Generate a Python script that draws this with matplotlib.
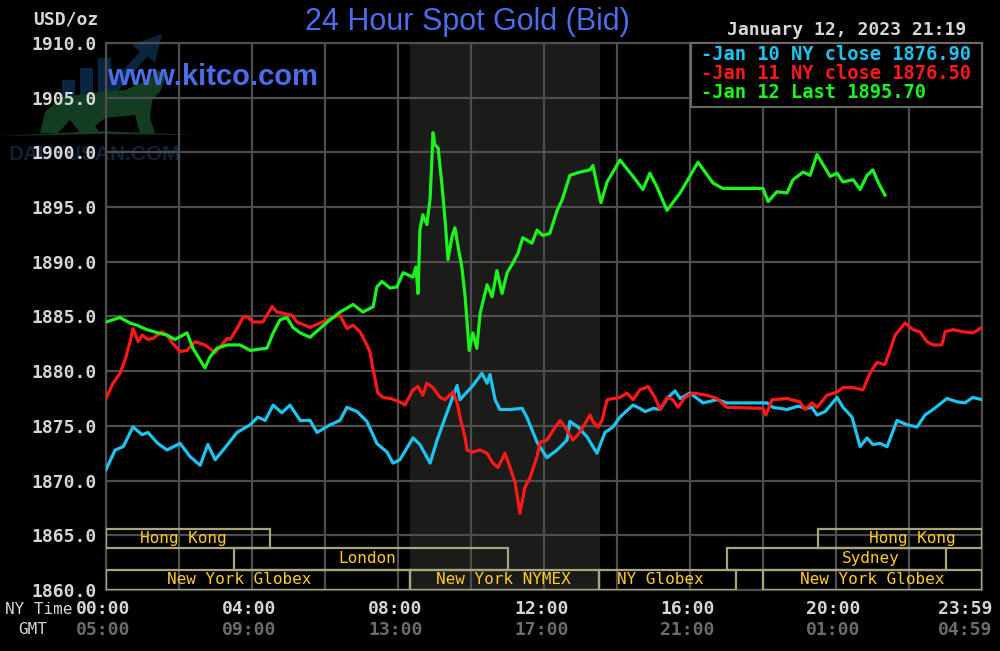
import matplotlib
matplotlib.use("Agg")
import matplotlib.pyplot as plt
from matplotlib.patches import Rectangle, Polygon

# (hour of NY day, bid price)
jan10 = [(0, 1871.0), (0.25, 1872.8), (0.47, 1873.1), (0.74, 1874.9), (0.99, 1874.2), (1.15, 1874.4),
         (1.42, 1873.4), (1.67, 1872.8), (2.03, 1873.4), (2.30, 1872.2), (2.58, 1871.4), (2.79, 1873.3),
         (2.99, 1871.9), (3.26, 1873.0), (3.59, 1874.4), (3.95, 1875.1), (4.16, 1875.8), (4.36, 1875.5),
         (4.58, 1876.9), (4.82, 1876.2), (5.04, 1876.9), (5.32, 1875.5), (5.59, 1875.5), (5.78, 1874.4),
         (6.14, 1875.1), (6.41, 1875.5), (6.60, 1876.7), (6.88, 1876.3), (7.15, 1875.4), (7.42, 1873.4),
         (7.70, 1872.6), (7.86, 1871.6), (8.05, 1871.9), (8.41, 1873.9), (8.60, 1873.3), (8.88, 1871.6),
         (9.07, 1873.7), (9.34, 1876.2), (9.62, 1878.7), (9.70, 1877.4), (10.03, 1878.6), (10.30, 1879.8),
         (10.44, 1878.9), (10.52, 1879.7), (10.66, 1877.4), (10.79, 1876.5), (11.07, 1876.5), (11.40, 1876.6),
         (11.53, 1875.8), (11.81, 1873.5), (12.08, 1872.1), (12.36, 1872.8), (12.63, 1873.7), (12.71, 1875.4),
         (12.93, 1874.9), (13.18, 1874.0), (13.45, 1872.5), (13.67, 1874.4), (13.89, 1874.9), (14.08, 1875.8),
         (14.44, 1876.9), (14.63, 1876.6), (14.77, 1876.3), (14.99, 1876.6), (15.18, 1876.5), (15.37, 1877.5),
         (15.59, 1878.2), (15.73, 1877.5), (16.00, 1878.0), (16.36, 1877.1), (16.74, 1877.4), (17.01, 1877.1),
         (18.11, 1877.1), (18.27, 1876.7), (18.66, 1876.5), (18.96, 1876.8), (19.21, 1876.6), (19.34, 1876.7),
         (19.48, 1876.0), (19.70, 1876.3), (20.03, 1877.6), (20.19, 1876.7), (20.44, 1875.8), (20.66, 1873.1),
         (20.85, 1873.9), (21.01, 1873.3), (21.21, 1873.4), (21.40, 1873.1), (21.67, 1875.5), (21.95, 1875.1),
         (22.22, 1874.9), (22.44, 1876.0), (22.66, 1876.5), (23.04, 1877.5), (23.32, 1877.2), (23.53, 1877.1),
         (23.75, 1877.6), (24.0, 1877.4)]

jan11 = [(0, 1877.5), (0.19, 1878.9), (0.38, 1879.8), (0.52, 1881.0), (0.66, 1882.7), (0.74, 1883.9),
         (0.88, 1882.7), (0.99, 1883.3), (1.15, 1882.9), (1.29, 1883.0), (1.53, 1883.6), (1.67, 1883.3),
         (1.81, 1882.6), (2.03, 1881.8), (2.22, 1881.9), (2.44, 1882.7), (2.71, 1882.4), (2.99, 1881.7),
         (3.12, 1882.2), (3.32, 1883.0), (3.40, 1882.9), (3.59, 1883.9), (3.75, 1884.9), (3.86, 1885.0),
         (4.03, 1884.5), (4.30, 1884.5), (4.55, 1885.9), (4.68, 1885.4), (4.85, 1885.3), (5.10, 1885.1),
         (5.23, 1884.5), (5.59, 1884.0), (5.86, 1884.4), (6.22, 1884.9), (6.41, 1885.1), (6.60, 1883.9),
         (6.77, 1884.2), (6.96, 1883.6), (7.10, 1882.7), (7.23, 1881.8), (7.32, 1880.1), (7.45, 1878.0),
         (7.59, 1877.6), (7.80, 1877.5), (8.05, 1877.2), (8.19, 1876.9), (8.41, 1878.3), (8.55, 1878.6),
         (8.68, 1877.8), (8.79, 1878.9), (8.96, 1878.5), (9.15, 1877.6), (9.29, 1877.4), (9.51, 1878.1),
         (9.62, 1877.1), (9.70, 1875.8), (9.84, 1873.9), (9.89, 1872.8), (10.03, 1872.6), (10.25, 1872.8),
         (10.44, 1872.5), (10.60, 1871.6), (10.74, 1871.2), (10.93, 1872.5), (11.07, 1871.2), (11.21, 1869.8),
         (11.34, 1867.0), (11.48, 1869.4), (11.62, 1870.3), (11.81, 1872.2), (11.89, 1873.5), (12.08, 1873.7),
         (12.25, 1874.6), (12.44, 1875.5), (12.63, 1874.6), (12.79, 1873.7), (12.93, 1874.2), (13.07, 1874.9),
         (13.26, 1876.0), (13.34, 1875.4), (13.48, 1874.9), (13.59, 1875.5), (13.73, 1877.4), (13.89, 1877.5),
         (14.08, 1877.6), (14.27, 1878.0), (14.44, 1877.4), (14.63, 1878.3), (14.85, 1878.6), (15.04, 1877.6),
         (15.18, 1876.5), (15.37, 1877.6), (15.53, 1877.4), (15.67, 1876.7), (15.86, 1877.6), (16.08, 1878.0),
         (16.47, 1877.8), (16.74, 1877.5), (17.01, 1876.7), (18.00, 1876.6), (18.08, 1876.0), (18.25, 1877.4),
         (18.66, 1877.5), (19.01, 1877.2), (19.15, 1876.5), (19.34, 1877.1), (19.48, 1876.7), (19.75, 1877.8),
         (20.03, 1878.1), (20.19, 1878.5), (20.47, 1878.5), (20.74, 1878.3), (20.93, 1879.8), (21.12, 1880.8),
         (21.34, 1880.6), (21.48, 1881.9), (21.62, 1883.3), (21.89, 1884.4), (22.11, 1883.8), (22.30, 1883.6),
         (22.49, 1882.7), (22.66, 1882.4), (22.90, 1882.4), (22.99, 1883.6), (23.21, 1883.8), (23.48, 1883.6),
         (23.75, 1883.5), (24.0, 1884.0)]

jan12 = [(0, 1884.5), (0.38, 1884.9), (0.66, 1884.4), (0.85, 1884.2), (1.12, 1883.8), (1.42, 1883.5),
         (1.67, 1883.3), (1.89, 1882.9), (2.11, 1883.3), (2.22, 1883.5), (2.38, 1882.1), (2.71, 1880.3),
         (2.85, 1881.3), (3.04, 1882.1), (3.32, 1882.4), (3.67, 1882.4), (3.95, 1881.9), (4.41, 1882.1),
         (4.58, 1883.5), (4.77, 1884.7), (4.96, 1884.9), (5.12, 1884.0), (5.32, 1883.5), (5.59, 1883.1),
         (5.86, 1883.9), (6.14, 1884.7), (6.41, 1885.4), (6.77, 1886.1), (7.04, 1885.4), (7.32, 1885.9),
         (7.42, 1887.7), (7.56, 1888.2), (7.78, 1887.6), (7.97, 1887.7), (8.14, 1889.0), (8.41, 1888.6),
         (8.49, 1889.5), (8.55, 1887.1), (8.60, 1892.9), (8.68, 1894.3), (8.79, 1893.4), (8.88, 1895.8),
         (8.96, 1901.8), (9.01, 1900.7), (9.10, 1900.4), (9.21, 1896.8), (9.29, 1893.8), (9.37, 1890.2),
         (9.48, 1892.3), (9.56, 1893.1), (9.64, 1891.5), (9.75, 1889.5), (9.84, 1886.8), (9.95, 1881.9),
         (10.05, 1883.5), (10.16, 1882.1), (10.25, 1885.3), (10.44, 1887.9), (10.58, 1886.8), (10.71, 1889.2),
         (10.85, 1887.1), (10.99, 1889.0), (11.15, 1889.9), (11.29, 1890.8), (11.42, 1892.2), (11.67, 1891.7),
         (11.81, 1892.9), (11.97, 1892.4), (12.16, 1892.6), (12.36, 1894.7), (12.49, 1895.6), (12.71, 1897.9),
         (12.99, 1898.2), (13.26, 1898.4), (13.34, 1898.8), (13.48, 1896.6), (13.56, 1895.4), (13.73, 1897.3),
         (14.08, 1899.3), (14.44, 1897.8), (14.71, 1896.6), (14.90, 1898.1), (15.10, 1896.8), (15.37, 1894.7),
         (15.73, 1896.3), (16.22, 1899.1), (16.63, 1897.2), (16.90, 1896.7), (18.00, 1896.7), (18.14, 1895.5),
         (18.38, 1896.4), (18.66, 1896.3), (18.82, 1897.5), (19.10, 1898.2), (19.29, 1897.9), (19.48, 1899.8),
         (19.84, 1897.8), (20.03, 1898.1), (20.19, 1897.3), (20.47, 1897.5), (20.66, 1896.6), (20.85, 1897.9),
         (21.01, 1898.4), (21.15, 1897.3), (21.34, 1896.1)]

legend_labels = ["-Jan 10 NY close 1876.90", "-Jan 11 NY close 1876.50", "-Jan 12 Last 1895.70"]
series_colors = ["#1ec4f0", "#ff1818", "#1cf51c"]

ny_times = ["00:00", "04:00", "08:00", "12:00", "16:00", "20:00", "23:59"]
gmt_times = ["05:00", "09:00", "13:00", "17:00", "21:00", "01:00", "04:59"]

# sessions: name, start hour, end hour, row (0 = bottom), label hour
sessions = [
    ("New York Globex", 0, 8.33, 0, 3.64),
    ("New York NYMEX", 8.33, 13.5, 0, 10.88),
    ("NY Globex", 13.5, 17.25, 0, 15.18),
    ("New York Globex", 18.0, 24, 0, 20.99),
    ("London", 3.5, 11.0, 1, 7.15),
    ("Sydney", 17.0, 23.0, 1, 20.96),
    ("Hong Kong", 0, 4.5, 2, 2.11),
    ("Hong Kong", 19.5, 24, 2, 22.08),
]
row_edges = [1860, 1861.83, 1863.84, 1865.6]

mono = "DejaVu Sans Mono"
grid_c = "#4e4e4e"
W, H = 1000, 651


def px(x, y):
    # pixel position -> figure fraction
    return x / W, 1 - y / H


fig = plt.figure(figsize=(10, 6.51), dpi=100, facecolor="black")

# faint watermark logo in the top-left corner, drawn under the chart
wm = dict(transform=fig.transFigure, zorder=-1, lw=0)
blue_wm, green_wm = "#0b2540", "#133d20"
for x0, y0 in [(62, 80), (80, 68), (98, 58)]:
    bl, tr = px(x0, 100), px(x0 + 13, y0)
    fig.add_artist(Rectangle(bl, tr[0] - bl[0], tr[1] - bl[1], facecolor=blue_wm, **wm))
fig.add_artist(Polygon([px(*p) for p in [(95, 100), (140, 52), (132, 45), (162, 34), (155, 63),
                                          (148, 56), (110, 100)]], facecolor=blue_wm, **wm))
fig.add_artist(Polygon([px(*p) for p in [(40, 133), (45, 112), (62, 97), (100, 92), (125, 90),
                                          (148, 80), (158, 70), (166, 76), (160, 92), (152, 100),
                                          (150, 118), (155, 133), (140, 133), (135, 115), (105, 118),
                                          (95, 126), (100, 133), (80, 133), (70, 120), (58, 133)]],
                       facecolor=green_wm, **wm))
fig.add_artist(Polygon([px(*p) for p in [(0, 136), (100, 131), (196, 135), (100, 134)]],
                       facecolor=green_wm, **wm))
fig.text(*px(94, 154), "DAUTUSAN.COM", family="Liberation Sans", fontweight="bold", fontsize=15,
         color="#0e2238", ha="center", va="center", zorder=-1)

ax = fig.add_axes([0.106, 0.0937, 0.876, 0.8403], facecolor="none")
ax.set_xlim(0, 24)
ax.set_ylim(1860, 1910)

# NY trading hours shading
ax.axvspan(8.33, 13.5, color="#1b1b19", zorder=0)

ax.set_xticks(range(0, 25, 2))
ax.set_yticks(range(1860, 1911, 5))
ax.set_yticklabels(["%.1f" % v for v in range(1860, 1911, 5)],
                   family=mono, fontweight="bold", fontsize=13, color="#d6d6d6")
ax.tick_params(length=0, labelbottom=False, pad=7)
ax.grid(True, color=grid_c, lw=1.6, zorder=1)
ax.set_axisbelow(True)
for s in ax.spines.values():
    s.set_color(grid_c)
    s.set_linewidth(1.6)

for name, a, b, row, lx in sessions:
    y0, y1 = row_edges[row], row_edges[row + 1]
    ax.add_patch(Rectangle((a, y0), b - a, y1 - y0, fill=False, edgecolor="#aaa67c", lw=1.6, zorder=3))
    ax.text(lx, (y0 + y1) / 2, name, ha="center", va="center", family=mono,
            fontsize=11.5, color="#ffcc22", zorder=3)

for data, c in zip([jan10, jan11, jan12], series_colors):
    ax.plot([d[0] for d in data], [d[1] for d in data], color=c, lw=2.3, zorder=4)

# legend box
ax.add_patch(Rectangle((16.03, 1904.15), 7.98, 5.85, facecolor="black", edgecolor="#6a6a6a",
                       lw=1.5, zorder=5, clip_on=False))
for i, (lab, c) in enumerate(zip(legend_labels, series_colors)):
    fig.text(*px(701, 54 + 19.5 * i), lab, family=mono, fontweight="bold",
             fontsize=13.5, color=c, va="center", ha="left", zorder=6)

# texts around the plot
fig.text(*px(467, 22), "24 Hour Spot Gold (Bid)", family="Liberation Sans",
         fontsize=22, color="#4b6ee8", ha="center", va="center", zorder=3)
fig.text(*px(107, 77), "www.kitco.com", family="Liberation Sans", fontweight="bold",
         fontsize=21, color="#4b6ee8", ha="left", va="center", zorder=3)
fig.text(*px(98, 20), "USD/oz", family=mono, fontweight="bold", fontsize=13,
         color="#d6d6d6", ha="right", va="center")
fig.text(*px(966, 30), "January 12, 2023 21:19", family=mono, fontweight="bold",
         fontsize=13, color="#d6d6d6", ha="right", va="center")

fig.text(*px(5, 609), "NY Time", family=mono, fontsize=11.5, color="#d6d6d6",
         ha="left", va="center")
fig.text(*px(18, 630), "GMT", family=mono, fontsize=11.5, color="#d6d6d6",
         ha="left", va="center")
label_pos = [-0.08, 3.92, 7.92, 11.92, 15.92, 19.92, 23.53]
for x, ny, gmt in zip(label_pos, ny_times, gmt_times):
    ax.text(x, -0.0345, ny, transform=ax.get_xaxis_transform(), family=mono, fontweight="bold",
            fontsize=13, color="#d6d6d6", ha="center", va="center", clip_on=False)
    ax.text(x, -0.073, gmt, transform=ax.get_xaxis_transform(), family=mono, fontweight="bold",
            fontsize=13, color="#6c6c6c", ha="center", va="center", clip_on=False)

fig.savefig("out.png", dpi=100, facecolor="black")
